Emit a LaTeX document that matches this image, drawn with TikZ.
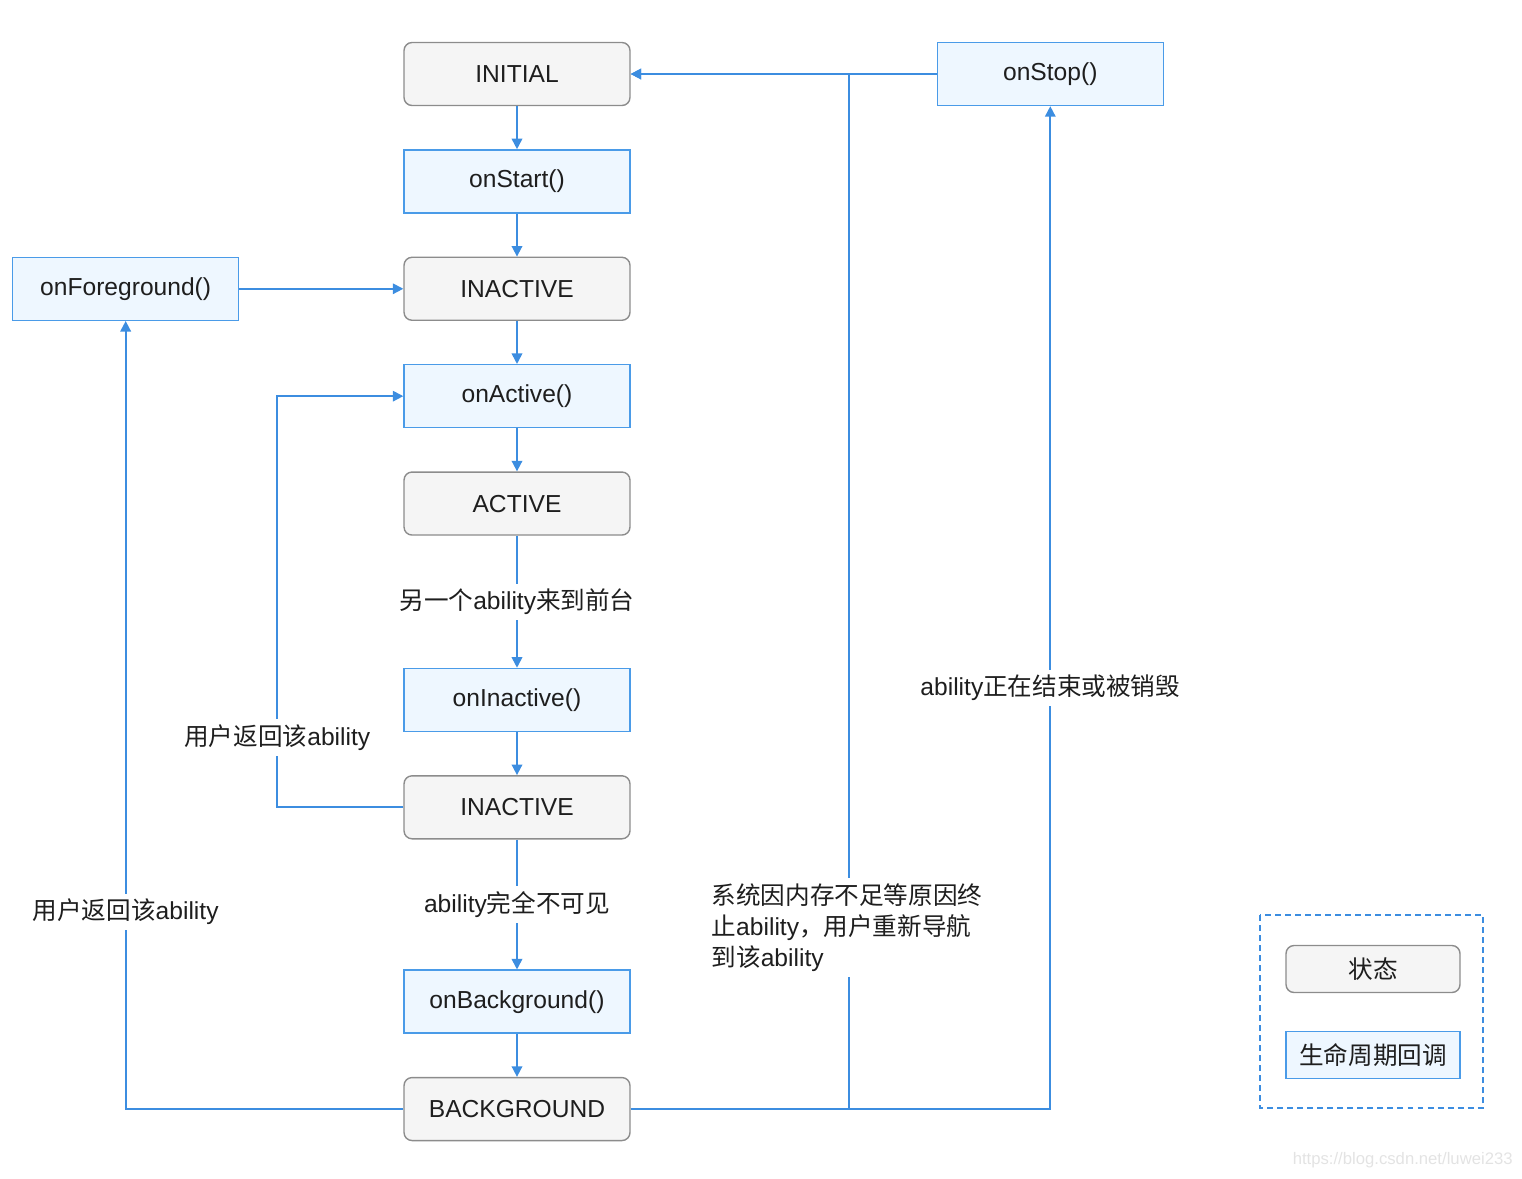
\documentclass[tikz,border=0pt]{standalone}
\usepackage{fontspec}
\setmainfont{Liberation Sans}
\newfontfamily\cjk{Noto Sans CJK SC}
\usetikzlibrary{positioning}
\usetikzlibrary{arrows.meta}

\definecolor{flowblue}{HTML}{3C8DE0}
\definecolor{cbfill}{HTML}{EEF7FF}
\definecolor{cbborder}{HTML}{4A9BE8}
\definecolor{stfill}{HTML}{F5F5F5}
\definecolor{stborder}{HTML}{8C8C8C}
\definecolor{txt}{HTML}{1E1E1E}

\newcommand{\zh}[1]{{\cjk #1}}

\begin{document}
\begin{tikzpicture}[x=0.02cm, y=-0.02cm, node distance=0.86cm,
	every node/.style={font=\fontsize{14}{17.6}\selectfont, text=txt},
	state/.style={draw=stborder, fill=stfill, rounded corners=0.16cm, line width=0.8pt, minimum width=4.52cm, minimum height=1.26cm},
	callback/.style={draw=cbborder, fill=cbfill, line width=0.8pt, minimum width=4.52cm, minimum height=1.26cm},
	flow/.style={draw=flowblue, line width=1pt, -{Triangle[length=6pt,width=6pt]}},
	lbl/.style={fill=white, inner sep=3pt}]
		\useasboundingbox (0,0) rectangle (1522,1178);

		% main column
		\node[state] (initial) at (517,74) {INITIAL};
		\node[callback, below=of initial] (onstart) {onStart()};
		\node[state, below=of onstart] (inactive) {INACTIVE};
		\node[callback, below=of inactive] (onactive) {onActive()};
		\node[state, below=of onactive] (active) {ACTIVE};
		\node[callback, below=2.64cm of active] (oninactive) {onInactive()};
		\node[state, below=of oninactive] (inactivebg) {INACTIVE};
		\node[callback, below=2.6cm of inactivebg] (onbackground) {onBackground()};
		\node[state, below=of onbackground] (background) {BACKGROUND};

		% side callbacks
		\node[callback, left=3.28cm of inactive] (onforeground) {onForeground()};
		\node[callback, right=6.12cm of initial] (onstop) {onStop()};

		% legend
		\draw[flowblue, dashed, dash pattern=on 3.4pt off 2.3pt, line width=0.8pt] (1260,915) rectangle (1483,1108);
		\node[state, minimum width=3.48cm, minimum height=0.94cm] (keystate) at (1373,969) {\zh{状态}};
		\node[callback, minimum width=3.48cm, minimum height=0.94cm] (keycallback) at (1373,1055) {\zh{生命周期回调}};

		\draw[flow] (initial) -- (onstart);
		\draw[flow] (onstart) -- (inactive);
		\draw[flow] (inactive) -- (onactive);
		\draw[flow] (onactive) -- (active);
		\draw[flow] (active) -- node[lbl] {\zh{另一个}ability\zh{来到前台}} (oninactive);
		\draw[flow] (oninactive) -- (inactivebg);
		\draw[flow] (inactivebg) -- node[lbl] {ability\zh{完全不可见}} (onbackground);
		\draw[flow] (onbackground) -- (background);
		\draw[flow] (onforeground) -- (inactive);
		\draw[flow] (onstop) -- (initial);

		% back edges
		\draw[flow] (inactivebg.west) -- ++(-126,0) |- node[lbl, pos=0.085] {\zh{用户返回该}ability} (onactive.west);
		\draw[flow] (background.west) -| node[lbl, pos=0.625] {\zh{用户返回该}ability} (onforeground.south);
		\draw[flow] (background.east) -- ++(218,0) |- (initial.east);
		\draw[flow] (background.east) -| node[lbl, pos=0.71] {ability\zh{正在结束或被销毁}} (onstop.south);
		\node[lbl, align=left, anchor=north west] (memnote) at (706,878) {\zh{系统因内存不足等原因终}\\\zh{止}ability\zh{，用户重新导航}\\\zh{到该}ability};

		\node[text=gray!22, font=\fontsize{9.5}{11}\selectfont, anchor=east, inner sep=0pt] (watermark) at (1513,1160) {https://blog.csdn.net/luwei233};
\end{tikzpicture}
\end{document}
